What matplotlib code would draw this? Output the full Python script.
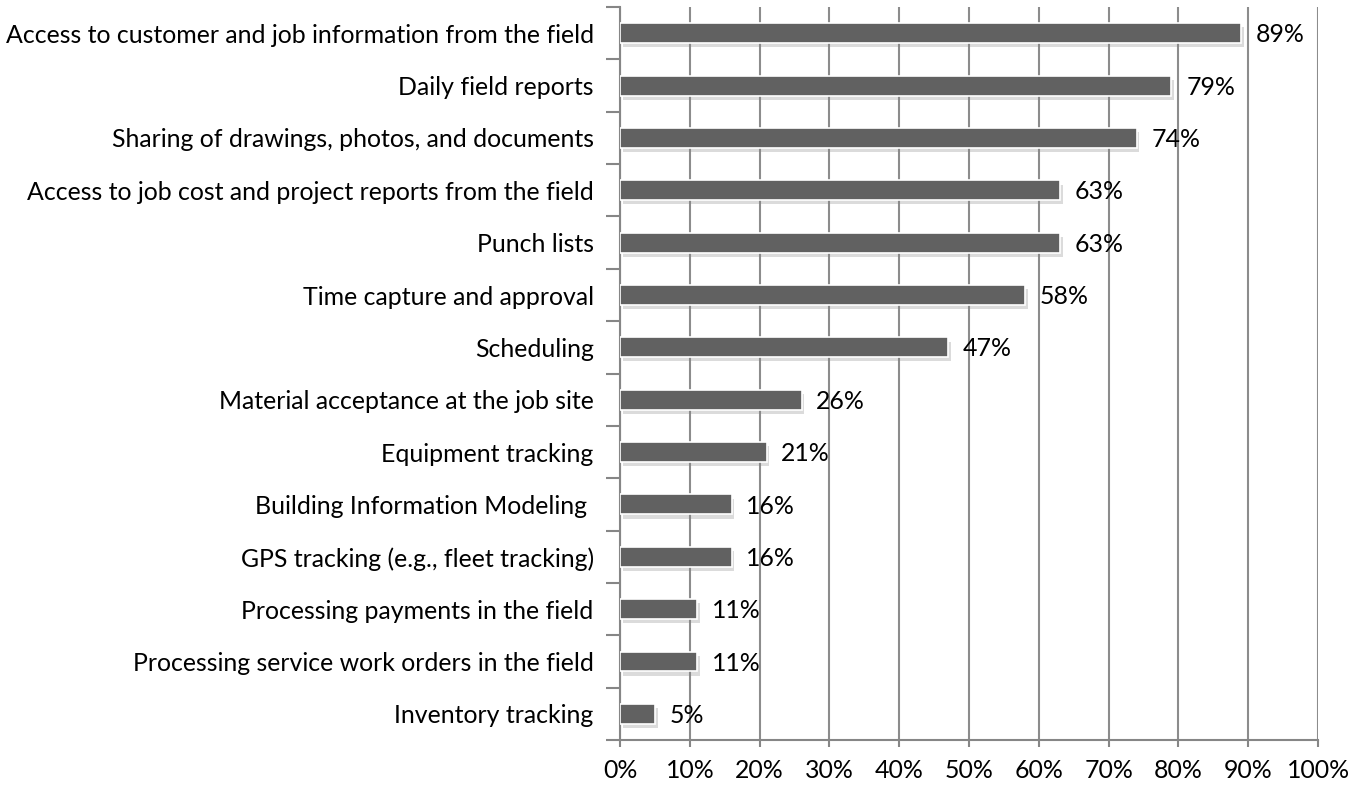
import matplotlib
matplotlib.use("Agg")
import matplotlib.pyplot as plt
import matplotlib.patheffects as pe
from matplotlib.ticker import FixedLocator

categories = [
    "Access to customer and job information from the field",
    "Daily field reports",
    "Sharing of drawings, photos, and documents",
    "Access to job cost and project reports from the field",
    "Punch lists",
    "Time capture and approval",
    "Scheduling",
    "Material acceptance at the job site",
    "Equipment tracking",
    "Building Information Modeling ",
    "GPS tracking (e.g., fleet tracking)",
    "Processing payments in the field",
    "Processing service work orders in the field",
    "Inventory tracking",
]
values = [89, 79, 74, 63, 63, 58, 47, 26, 21, 16, 16, 11, 11, 5]
xtick_labels = [f"{v}%" for v in range(0, 101, 10)]

plt.rcParams['font.family'] = ['Lato', 'DejaVu Sans']
FS = 17.9
fig = plt.figure(figsize=(13.66, 7.86), dpi=100)
ax = fig.add_axes([0.4539, 0.0585, 0.5110, 0.9325])

n = len(categories)
ypos = list(range(n))
bars = ax.barh(ypos, values, height=0.38, color="#616161", edgecolor="white",
               linewidth=1.2, zorder=3)
for b in bars:
    b.set_path_effects([pe.SimplePatchShadow(offset=(2, -3), alpha=0.3, shadow_rgbFace="#888888"), pe.Normal()])

for y, v in zip(ypos, values):
    ax.text(v + 2.1, y + 0.03, f"{v}%", va="center", ha="left", fontsize=FS, color="black", zorder=4)

ax.set_xlim(0, 100)
ax.set_ylim(n - 0.5, -0.5)
ax.set_yticks(ypos)
ax.set_yticklabels(categories, fontsize=FS)
ax.yaxis.set_minor_locator(FixedLocator([i - 0.5 for i in range(n + 1)]))
ax.tick_params(axis='y', which='major', length=0, pad=19)
ax.tick_params(axis='y', which='minor', length=10, width=1.5, color="#868686")

ax.set_xticks(range(0, 101, 10))
ax.set_xticklabels(xtick_labels, fontsize=FS)
ax.tick_params(axis='x', which='major', length=5, width=1.5, color="#868686", pad=9)

ax.xaxis.grid(True, color="#8c8c8c", linewidth=1.5, zorder=0)
ax.set_axisbelow(True)
for s in ["top", "right"]:
    ax.spines[s].set_visible(False)
for s in ["left", "bottom"]:
    ax.spines[s].set_color("#868686")
    ax.spines[s].set_linewidth(1.5)

fig.savefig("out.png", dpi=100, facecolor="white")
